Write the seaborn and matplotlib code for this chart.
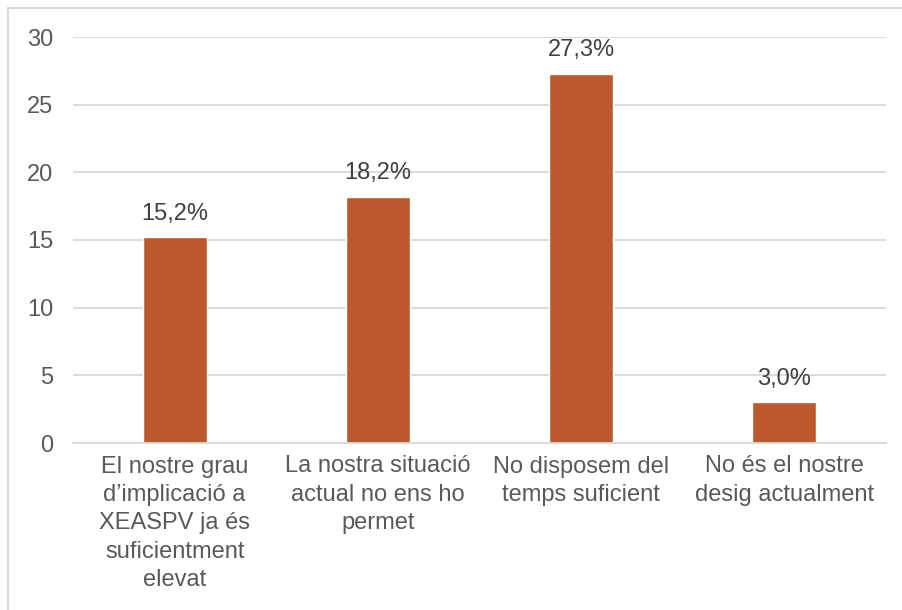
import matplotlib
matplotlib.use("Agg")
import matplotlib.pyplot as plt
import seaborn as sns
import pandas as pd
from matplotlib.lines import Line2D

# ---------------------------------------------------------
# Dades
# ---------------------------------------------------------
categories = [
    "El nostre grau\nd\u2019implicació a\nXEASPV ja és\nsuficientment\nelevat",
    "La nostra situació\nactual no ens ho\npermet",
    "No disposem del\ntemps suficient",
    "No és el nostre\ndesig actualment",
]
values = [15.2, 18.2, 27.3, 3.0]
value_labels = ["15,2%", "18,2%", "27,3%", "3,0%"]
y_ticks = [0, 5, 10, 15, 20, 25, 30]

df = pd.DataFrame({"categoria": categories, "valor": values})

sns.set_theme(style="white")
plt.rcParams['font.family'] = ['Liberation Sans', 'DejaVu Sans']

BAR_COLOR = "#BD582C"
GRID_COLOR = "#D9D9D9"
TEXT_COLOR = "#595959"

fig = plt.figure(figsize=(9.02, 6.10), dpi=100)
W, H = 902, 610
ax = fig.add_axes([73 / W, 1 - 443 / H, (886 - 73) / W, (443 - 37) / H])

sns.barplot(data=df, x="categoria", y="valor", color=BAR_COLOR,
            width=0.315, saturation=1, ax=ax)

ax.set_ylim(0, 30)
ax.set_yticks(y_ticks)
ax.set_xlim(-0.5, len(categories) - 0.5)
ax.yaxis.grid(True, color=GRID_COLOR, linewidth=1.3)
ax.set_axisbelow(True)
for s in ["left", "right", "top"]:
    ax.spines[s].set_visible(False)
ax.spines["bottom"].set_color(GRID_COLOR)
ax.spines["bottom"].set_linewidth(1.3)

ax.set_xlabel("")
ax.set_ylabel("")
ax.tick_params(axis="y", length=0, pad=14, labelsize=17, labelcolor=TEXT_COLOR)
ax.tick_params(axis="x", length=0, pad=9, labelsize=17, labelcolor=TEXT_COLOR)
ax.set_xticks(range(len(categories)))
ax.set_xticklabels(categories, linespacing=1.38, ha="center")

# etiquetes de dades
for i, (v, lab) in enumerate(zip(values, value_labels)):
    ax.annotate(lab, (i, v), xytext=(0, 9), textcoords="offset points",
                ha="center", va="bottom", fontsize=17, color="#404040")

# marc del gràfic (només es veuen la vora superior i l'esquerra)
fig.add_artist(Line2D([8 / W, 8 / W], [0, 1 - 8 / H], transform=fig.transFigure,
                      color=GRID_COLOR, linewidth=1.5))
fig.add_artist(Line2D([8 / W, 1], [1 - 8 / H, 1 - 8 / H], transform=fig.transFigure,
                      color=GRID_COLOR, linewidth=1.5))

fig.savefig("out.png", dpi=100, facecolor="white")
